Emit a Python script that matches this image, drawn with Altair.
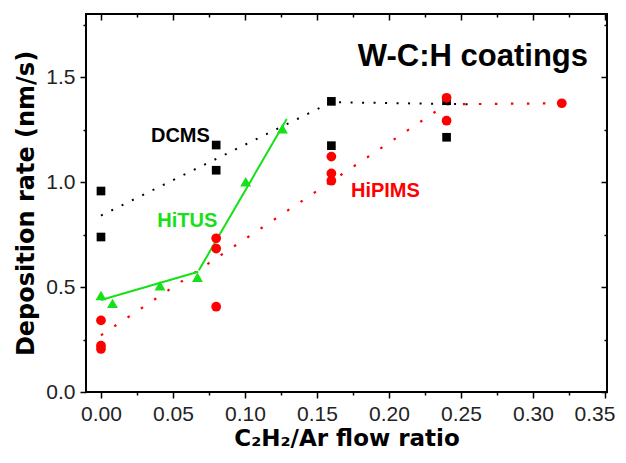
import altair as alt
import pandas as pd

# ---- data ----
dcms_x = [0.0, 0.0, 0.08, 0.08, 0.16, 0.16, 0.24, 0.24]
dcms_y = [0.957, 0.738, 1.176, 1.056, 1.384, 1.173, 1.387, 1.213]

hipims_x = [0.0, 0.0, 0.0, 0.08, 0.08, 0.08, 0.16, 0.16, 0.16, 0.24, 0.24, 0.32]
hipims_y = [0.341, 0.221, 0.205, 0.732, 0.683, 0.406, 1.121, 1.041, 1.006, 1.401, 1.292, 1.375]

hitus_x = [0.0, 0.008, 0.041, 0.067, 0.1005, 0.126]
hitus_y = [0.46, 0.422, 0.506, 0.546, 1.001, 1.254]

dcms_fit_x = [0.0, 0.16, 0.256]
dcms_fit_y = [0.84, 1.38, 1.37]
hipims_fit_x = [0.0, 0.24, 0.32]
hipims_fit_y = [0.27, 1.37, 1.375]
hitus_fit_x = [0.0, 0.0676, 0.068, 0.129]
hitus_fit_y = [0.438, 0.573, 0.58, 1.30]
hitus_fit_seg = ["a", "a", "b", "b"]

label_text = ["DCMS", "HiTUS", "HiPIMS"]
label_x = [0.0347, 0.0391, 0.1736]
label_y = [1.192, 0.786, 0.930]
label_color = ["#000000", "#16e016", "#ff0000"]

title_text = ["W-C:H coatings"]
title_x = [0.3382]
title_y = [1.552]

x_major = [0.0, 0.05, 0.10, 0.15, 0.20, 0.25, 0.30, 0.35]
x_minor = [0.025, 0.075, 0.125, 0.175, 0.225, 0.275, 0.325]
y_major = [0.0, 0.5, 1.0, 1.5]
y_minor = [0.25, 0.75, 1.25, 1.75]

GREEN = "#16e016"
RED = "#ff0000"
FONT = "Liberation Sans"
TFONT = "DejaVu Sans"

xs = alt.Scale(domain=[-0.0104, 0.3514], nice=False, zero=False)
ys = alt.Scale(domain=[0, 1.8], nice=False, zero=False)

common = dict(grid=False, domain=False, tickColor="black", tickWidth=1.5,
              labelFont=FONT, labelFontSize=21, labelColor="#222222",
              titleFont=TFONT, titleFontWeight="bold", titleColor="black")

ax_bottom = alt.Axis(orient="bottom", values=x_major, format=".2f", tickSize=6,
                     labelPadding=5, labelFlush=3, labelFlushOffset=10,
                     title="C\u2082H\u2082/Ar flow ratio",
                     titleFontSize=23, titlePadding=3, **common)
ax_bottom_minor = alt.Axis(orient="bottom", values=x_minor, tickSize=3,
                           labels=False, title=None, **common)
ax_top = alt.Axis(orient="top", values=x_major, tickSize=6, offset=-6,
                  labels=False, title=None, **common)
ax_top_minor = alt.Axis(orient="top", values=x_minor, tickSize=3, offset=-3,
                        labels=False, title=None, **common)

ax_left = alt.Axis(orient="left", values=y_major, format=".1f", tickSize=6,
                   labelPadding=5, title="Deposition rate (nm/s)",
                   titleFontSize=24, titlePadding=7, **common)
ax_left_minor = alt.Axis(orient="left", values=y_minor, tickSize=3,
                         labels=False, title=None, **common)
ax_right = alt.Axis(orient="right", values=y_major, tickSize=6, offset=-6,
                    labels=False, title=None, **common)
ax_right_minor = alt.Axis(orient="right", values=y_minor, tickSize=3, offset=-3,
                          labels=False, title=None, **common)

dcms = pd.DataFrame({"x": dcms_x, "y": dcms_y})
hipims = pd.DataFrame({"x": hipims_x, "y": hipims_y})
hitus = pd.DataFrame({"x": hitus_x, "y": hitus_y})
dcms_fit = pd.DataFrame({"x": dcms_fit_x, "y": dcms_fit_y})
hipims_fit = pd.DataFrame({"x": hipims_fit_x, "y": hipims_fit_y})
hitus_fit = pd.DataFrame({"x": hitus_fit_x, "y": hitus_fit_y, "seg": hitus_fit_seg})
labels = pd.DataFrame({"t": label_text, "x": label_x, "y": label_y, "c": label_color})
big = pd.DataFrame({"t": title_text, "x": title_x, "y": title_y})


def X(axis):
    return alt.X("x:Q", scale=xs, axis=axis)


def Y(axis):
    return alt.Y("y:Q", scale=ys, axis=axis)


dcms_line = alt.Chart(dcms_fit).mark_line(
    color="black", strokeWidth=2, strokeDash=[2, 9.5], strokeCap="butt"
).encode(x=X(ax_top_minor), y=Y(ax_right_minor))

hipims_line = alt.Chart(hipims_fit).mark_line(
    color=RED, strokeWidth=2.2, strokeDash=[2.5, 13.5], strokeCap="butt"
).encode(x=X(None), y=Y(None))

hitus_line = alt.Chart(hitus_fit).mark_line(
    color=GREEN, strokeWidth=2
).encode(x=X(None), y=Y(None), detail="seg:N")

dcms_pts = alt.Chart(dcms).mark_point(
    shape="square", filled=True, color="black", size=75, opacity=1
).encode(x=X(ax_bottom), y=Y(ax_left))

hitus_pts = alt.Chart(hitus).mark_point(
    shape="triangle-up", filled=True, color=GREEN, size=120, opacity=1
).encode(x=X(ax_bottom_minor), y=Y(ax_left_minor))

hipims_pts = alt.Chart(hipims).mark_point(
    shape="circle", filled=True, color=RED, size=95, opacity=1
).encode(x=X(ax_top), y=Y(ax_right))

label_marks = alt.Chart(labels).mark_text(
    font=FONT, fontSize=20, fontWeight="bold", align="left", baseline="alphabetic"
).encode(x=X(None), y=Y(None), text="t:N", color=alt.Color("c:N", scale=None))

title_mark = alt.Chart(big).mark_text(
    font=FONT, fontSize=31, fontWeight="bold", align="right", baseline="alphabetic",
    color="black"
).encode(x=X(None), y=Y(None), text="t:N")

chart = alt.layer(
    dcms_line, hipims_line, hitus_line, dcms_pts, hitus_pts, hipims_pts,
    label_marks, title_mark
).resolve_axis(
    x="independent", y="independent"
).properties(
    width=521, height=378,
    autosize=alt.AutoSizeParams(type="none"),
    padding={"left": 78, "top": 6, "right": 11, "bottom": 60},
    background="white",
).configure_view(
    stroke="black", strokeWidth=2
)

chart.save("out.html", embed_options={"renderer": "svg", "actions": False})
